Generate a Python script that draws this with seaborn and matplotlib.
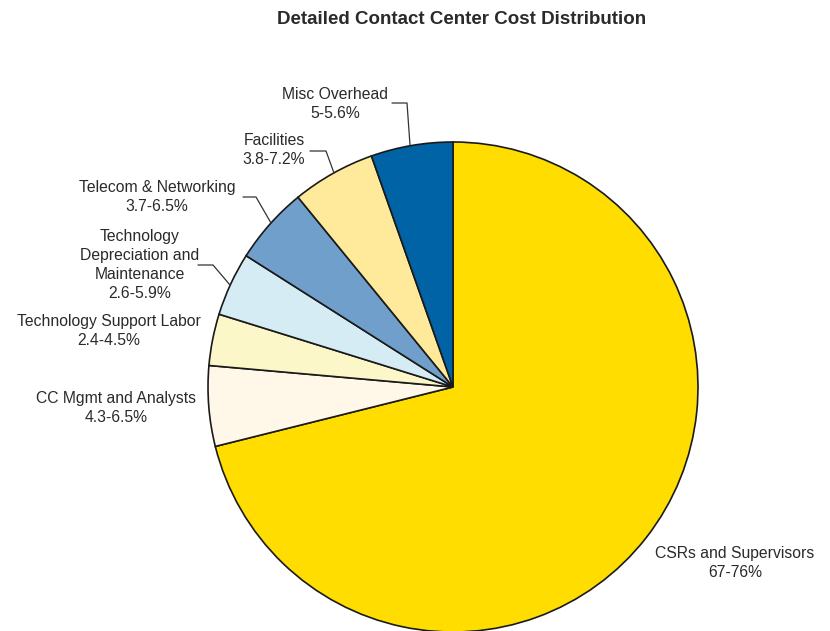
import matplotlib
matplotlib.use("Agg")
import matplotlib.pyplot as plt
import seaborn as sns

categories = ["CSRs and Supervisors", "CC Mgmt and Analysts", "Technology Support Labor",
              "Technology\nDepreciation and\nMaintenance", "Telecom & Networking",
              "Facilities", "Misc Overhead"]
ranges = ["67-76%", "4.3-6.5%", "2.4-4.5%", "2.6-5.9%", "3.7-6.5%", "3.8-7.2%", "5-5.6%"]
values = [71.1, 5.3, 3.4, 4.2, 5.1, 5.5, 5.4]
colors = ["#FFDD00", "#FFF8E8", "#FCF7C9", "#D5ECF4", "#709FCB", "#FFE99A", "#0063A6"]

sns.set_theme(style="white")
plt.rcParams["font.family"] = ["Liberation Sans", "DejaVu Sans"]

W, H = 830, 631
fig = plt.figure(figsize=(W / 100, H / 100), dpi=100)
ax = fig.add_axes([0, 0, 1, 1])

cx, cy, r = 453, H - 387, 245
ax.pie(values, colors=colors, startangle=90, counterclock=False,
       center=(cx, cy), radius=r, frame=True,
       wedgeprops=dict(edgecolor="#1a1a1a", linewidth=1.2))
ax.set_xlim(0, W)
ax.set_ylim(0, H)
ax.axis("off")
ax.set_aspect("equal")

# label positions (pixel coords, y from top) and leader lines
label_pos = [(735, 563), (116, 408), (109, 331), (140, 265), (157, 197), (274, 150), (335, 104)]
leaders = {
    6: [(392, 103), (407, 103), (410, 145)],
    5: [(310, 151), (326, 151), (334, 173)],
    4: [(243, 197), (256, 197), (271, 223)],
    3: [(198, 265), (213, 265), (230, 285)],
}
text_color = "#2a2a2a"
for i, (cat, rg) in enumerate(zip(categories, ranges)):
    x, y = label_pos[i]
    ax.text(x, H - y, cat + "\n" + rg, ha="center", va="center", fontsize=11.3,
            color=text_color, linespacing=1.36)
for i, pts in leaders.items():
    ax.plot([p[0] for p in pts], [H - p[1] for p in pts], color="#333333", lw=0.9)

fig.text(462 / W, 1 - 19 / H, "Detailed Contact Center Cost Distribution",
         ha="center", va="center", fontsize=13.5, fontweight="bold", color=text_color)

fig.savefig("out.png", dpi=100)
